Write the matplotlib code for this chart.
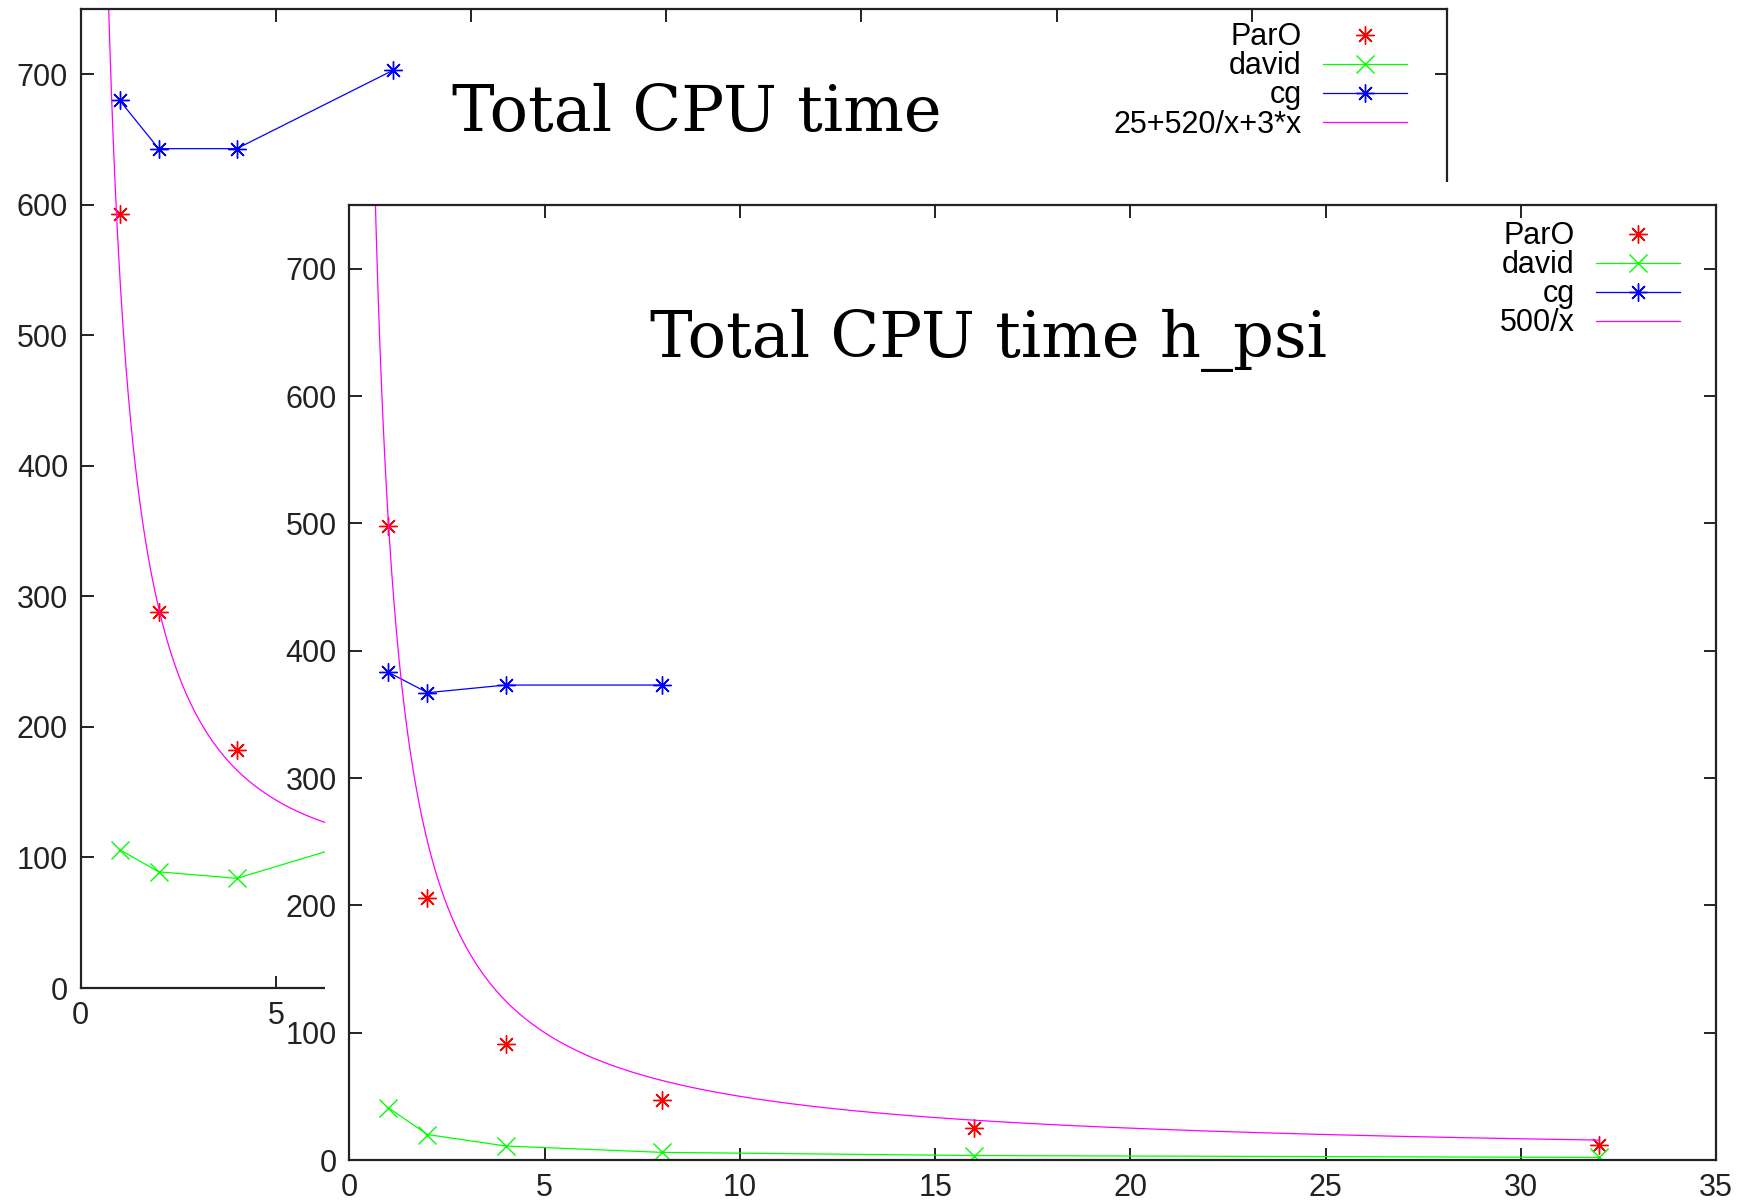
import numpy as np
import matplotlib
matplotlib.use("Agg")
import matplotlib.pyplot as plt
from matplotlib.patches import Rectangle

# ---------------- data ----------------
# back chart: "Total CPU time"
back_x = [1, 2, 4, 8]
back_paro_x = [1, 2, 4]
back_paro = [593, 288, 182]
back_david = [106, 89, 84, 120]
back_cg = [680, 643, 643, 703]
back_fit_label = "25+520/x+3*x"

# front chart: "Total CPU time h_psi"
front_x = [1, 2, 4, 8, 16, 32]
front_paro = [498, 206, 91, 47, 25, 12]
front_david = [41, 20, 11, 6, 3.5, 2]
front_cg_x = [1, 2, 4, 8]
front_cg = [383, 367, 373, 373]
front_fit_label = "500/x"

series_labels = ["ParO", "david", "cg"]
x_ticks = [0, 5, 10, 15, 20, 25, 30, 35]
y_ticks = [0, 100, 200, 300, 400, 500, 600, 700]
titles = ["Total CPU time", "Total CPU time h_psi"]
fit_range = (0.3, 32)

# ---------------- style ----------------
W, H = 1756, 1204
fig = plt.figure(figsize=(W / 100, H / 100), dpi=100)
sans = "Liberation Sans"
serif = "DejaVu Serif"
fs_tick = 22
fs_title = 46
RED, GREEN, BLUE, MAG = "#ff0000", "#00ff00", "#0000ff", "#ff00ff"
star = (8, 2, 0)
ms = 13
lw = 0.9


def px_axes(l, t, r, b):
    return [l / W, 1 - b / H, (r - l) / W, (b - t) / H]


def style_axes(ax):
    ax.set_xlim(0, 35)
    ax.set_ylim(0, 750)
    ax.set_xticks(x_ticks)
    ax.set_yticks(y_ticks)
    ax.tick_params(direction="in", length=9, width=1.4, top=True, right=True,
                   labelsize=fs_tick, colors="#222222", pad=9)
    for lab in ax.get_xticklabels() + ax.get_yticklabels():
        lab.set_fontfamily(sans)
    for s in ax.spines.values():
        s.set_linewidth(1.6)
        s.set_color("#222222")


def draw(ax, xs_paro, paro, xs_d, david, xs_cg, cg, fit, fit_label):
    ax.plot(xs_paro, paro, linestyle="none", marker=star, color=RED,
            markersize=ms, mew=1, label=series_labels[0])
    ax.plot(xs_d, david, color=GREEN, marker="x", markersize=ms, mew=1,
            lw=lw, label=series_labels[1])
    ax.plot(xs_cg, cg, color=BLUE, marker=star, markersize=ms, mew=1,
            lw=lw, label=series_labels[2])
    xx = np.linspace(fit_range[0], fit_range[1], 2000)
    ax.plot(xx, fit(xx), color=MAG, lw=lw, label=fit_label)


def legend(ax, anchor):
    ax.legend(loc="upper right", bbox_to_anchor=anchor,
              frameon=False, markerfirst=False, handlelength=2.75,
              handletextpad=0.7, labelspacing=-0.03, borderpad=0,
              numpoints=1, prop={"family": sans, "size": fs_tick})


# back axes
ax1 = fig.add_axes(px_axes(80.6, 9, 1447, 988))
ax1.set_zorder(0)
style_axes(ax1)
draw(ax1, back_paro_x, back_paro, back_x, back_david, back_x, back_cg,
     lambda x: 25 + 520 / x + 3 * x, back_fit_label)
legend(ax1, (0.982, 1.002))
fig.text(697 / W, 1 - 113 / H, titles[0], fontfamily=serif,
         fontsize=fs_title, ha="center", va="center", zorder=0.5)

# white mask (front picture's background)
fig.add_artist(Rectangle((325 / W, 0), 1 - 325 / W, 1 - 182.5 / H,
                         transform=fig.transFigure, facecolor="white",
                         edgecolor="none", zorder=1))

# front axes
ax2 = fig.add_axes(px_axes(349.4, 205, 1716, 1160))
ax2.set_zorder(2)
style_axes(ax2)
draw(ax2, front_x, front_paro, front_x, front_david, front_cg_x, front_cg,
     lambda x: 500 / x, front_fit_label)
legend(ax2, (0.985, 0.999))
ax2.text((988 - 349.4) / (1716 - 349.4), 1 - (340 - 205) / (1160 - 205),
         titles[1], transform=ax2.transAxes, fontfamily=serif,
         fontsize=fs_title, ha="center", va="center")

fig.savefig("out.png", dpi=100, facecolor="white")
